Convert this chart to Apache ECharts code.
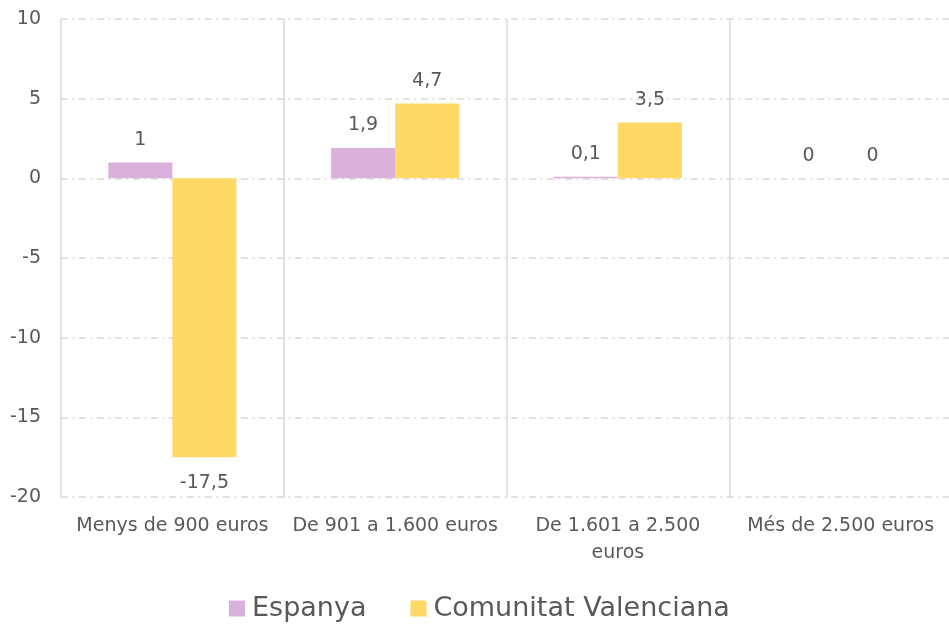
<!DOCTYPE html>
<html><head><meta charset="utf-8">
<script src="https://cdn.jsdelivr.net/npm/echarts@6/dist/echarts.min.js"></script>
<style>html,body{margin:0;padding:0;background:#fff}#c{width:949px;height:630px}</style>
</head><body><div id="c"></div>
<script>
const categories = ["Menys de 900 euros", "De 901 a 1.600 euros", "De 1.601 a 2.500 euros", "Més de 2.500 euros"];
const xTickLabels = ["Menys de 900 euros", "De 901 a 1.600 euros", "De 1.601 a 2.500\neuros", "Més de 2.500 euros"];
const espanya = [1, 1.9, 0.1, 0];
const comunitat = [-17.5, 4.7, 3.5, 0];
const seriesNames = ["Espanya", "Comunitat Valenciana"];
const yTicks = {min: -20, max: 10, interval: 5};

const FONT = "DejaVu Sans";
const TXT = "#595959";
const fmt = v => String(v).replace('.', ',');

function mkData(arr) {
  return arr.map(v => ({
    value: v,
    label: v < 0 ? {position: 'bottom', distance: 16} : {position: 'top', distance: 13}
  }));
}

const chart = echarts.init(document.getElementById('c'), null, {renderer: 'canvas'});
chart.setOption({
  animation: false,
  textStyle: {fontFamily: FONT},
  grid: {left: 61, width: 891, top: 19, height: 478, outerBoundsMode: 'none', containLabel: false},
  legend: {
    left: 224, bottom: 3,
    itemWidth: 16, itemHeight: 16, itemGap: 44,
    icon: 'rect',
    textStyle: {fontFamily: FONT, fontSize: 27, color: TXT, padding: [0, 0, 0, 2]},
    data: seriesNames
  },
  xAxis: {
    type: 'category',
    data: categories,
    axisLine: {show: false},
    axisTick: {show: false},
    splitLine: {show: true, lineStyle: {color: '#d9d9d9', width: 1.5, type: 'solid'}},
    axisLabel: {
      fontFamily: FONT, fontSize: 19, color: TXT, margin: 16, lineHeight: 27,
      interval: 0,
      formatter: (v, i) => xTickLabels[i]
    }
  },
  yAxis: {
    type: 'value',
    min: yTicks.min, max: yTicks.max, interval: yTicks.interval,
    axisLine: {show: false},
    axisTick: {show: false},
    axisLabel: {fontFamily: FONT, fontSize: 19, color: TXT, margin: 20},
    splitLine: {show: true, lineStyle: {color: '#d9d9d9', width: 1.5, type: [7, 4.5, 2, 4.5]}}
  },
  series: [
    {
      name: seriesNames[0], type: 'bar', data: mkData(espanya),
      itemStyle: {color: '#DAB1DA'},
      barGap: '0%', barCategoryGap: '42.5%',
      label: {show: true, fontFamily: FONT, fontSize: 19, color: TXT, formatter: p => fmt(p.value)}
    },
    {
      name: seriesNames[1], type: 'bar', data: mkData(comunitat),
      itemStyle: {color: '#FFD966'},
      barGap: '0%', barCategoryGap: '42.5%',
      label: {show: true, fontFamily: FONT, fontSize: 19, color: TXT, formatter: p => fmt(p.value)}
    }
  ]
});
</script></body></html>
